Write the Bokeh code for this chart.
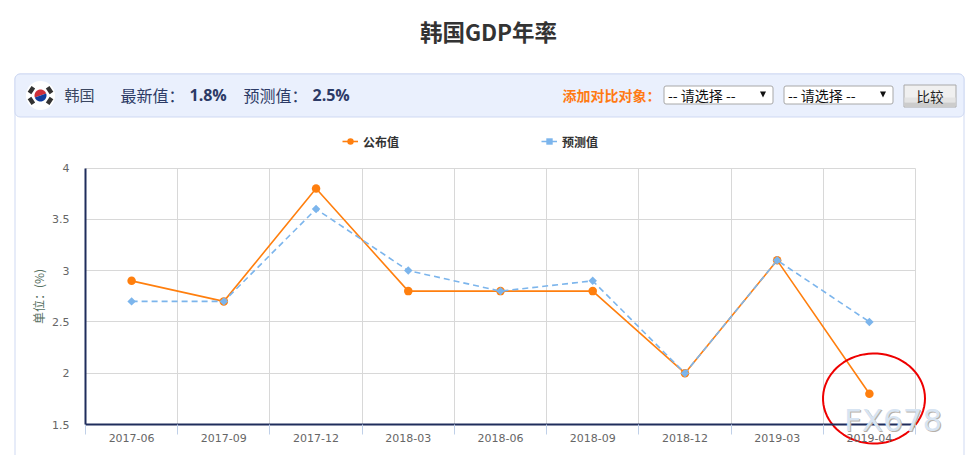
import numpy as np
from bokeh.plotting import figure
from bokeh.models import (Range1d, FixedTicker, Label, BoxAnnotation, Legend, LegendItem, ColumnDataSource)
from bokeh.embed import file_html
from bokeh.resources import INLINE

categories = ["2017-06", "2017-09", "2017-12", "2018-03", "2018-06", "2018-09", "2018-12", "2019-03", "2019-04"]
published = [2.9, 2.7, 3.8, 2.8, 2.8, 2.8, 2.0, 3.1, 1.8]
forecast = [2.7, 2.7, 3.6, 3.0, 2.8, 2.9, 2.0, 3.1, 2.5]
y_ticks = [1.5, 2, 2.5, 3, 3.5, 4]
y_labels = ["1.5", "2", "2.5", "3", "3.5", "4"]
series_names = ["公布值", "预测值"]

CJK = "Noto Sans CJK SC"
ORANGE = "#ff7f0e"
BLUE = "#7cb5ec"
NAVY = "#1f2d5c"
W, H = 972, 455
LEFT, RIGHT, TOP, BOTTOM = 85, 915, 167.5, 424

x_pos = [i + 0.5 for i in range(len(categories))]
band_edges = list(range(len(categories) + 1))
n = len(categories)
ymin, ymax = y_ticks[0], y_ticks[-1]
ux = n / (RIGHT - LEFT)
uy = (ymax - ymin) / (BOTTOM - TOP)

# the frame fills the page, so the panel around the chart can be drawn with the chart
p = figure(width=W, height=H, output_backend="svg", toolbar_location=None,
           x_range=Range1d(-LEFT * ux, (W - LEFT) * ux),
           y_range=Range1d(ymin - (H - BOTTOM) * uy, ymin + BOTTOM * uy),
           min_border=0)
p.outline_line_color = None
p.background_fill_color = "white"
p.extra_x_ranges = {"px": Range1d(0, W)}
p.extra_y_ranges = {"px": Range1d(H, 0)}

xa = p.xaxis[0]
xa.fixed_location = ymin
xa.bounds = (0, n)
xa.ticker = FixedTicker(ticks=x_pos, minor_ticks=band_edges)
xa.major_label_overrides = dict(zip(x_pos, categories))
xa.major_tick_line_color = None
xa.minor_tick_line_color = "#c0d0e8"
xa.minor_tick_out = 10
xa.minor_tick_in = 0
xa.axis_line_color = NAVY
xa.axis_line_width = 2
xa.major_label_text_font = "DejaVu Sans"
xa.major_label_text_font_size = "11px"
xa.major_label_text_color = "#666666"
xa.major_label_standoff = -1

ya = p.yaxis[0]
ya.fixed_location = 0
ya.bounds = (ymin, ymax)
ya.ticker = FixedTicker(ticks=y_ticks)
ya.major_label_overrides = dict(zip(y_ticks, y_labels))
ya.major_tick_line_color = None
ya.minor_tick_line_color = None
ya.axis_line_color = NAVY
ya.axis_line_width = 2
ya.major_label_text_font = "DejaVu Sans"
ya.major_label_text_font_size = "11px"
ya.major_label_text_color = "#666666"
ya.major_label_standoff = 10
ya.axis_label = "单位：(%)"
ya.axis_label_text_font = CJK
ya.axis_label_text_font_style = "normal"
ya.axis_label_text_font_size = "12px"
ya.axis_label_text_color = "#56705f"
ya.axis_label_standoff = 2

p.xgrid.ticker = FixedTicker(ticks=band_edges)
p.ygrid.ticker = FixedTicker(ticks=y_ticks)
p.xgrid.grid_line_color = "#d8d8d8"
p.ygrid.grid_line_color = "#d8d8d8"
p.xgrid.cross_bounds = (ymin, ymax)
p.ygrid.cross_bounds = (0, n)

src = ColumnDataSource(dict(x=x_pos, pub=published, fc=forecast))
l1 = p.line("x", "pub", source=src, line_color=ORANGE, line_width=1.6)
s1 = p.scatter("x", "pub", source=src, marker="circle", size=8.5, fill_color=ORANGE, line_color=ORANGE, line_width=0)
l2 = p.line("x", "fc", source=src, line_color=BLUE, line_width=1.6, line_dash="6 4")
s2 = p.scatter("x", "fc", source=src, marker="square", angle=np.pi / 4, size=6, fill_color=BLUE, line_color=BLUE, line_width=0)

PX = dict(x_range_name="px", y_range_name="px")


def box(l, t, r, b, fill=None, line=None, radius=0, lw=1):
    p.add_layout(BoxAnnotation(left=l, right=r, top=t, bottom=b, fill_color=fill, fill_alpha=1 if fill else 0,
                               line_color=line, line_alpha=1 if line else 0, line_width=lw, border_radius=radius,
                               level="underlay", **PX))


def poly(xs, ys, fill):
    p.patch(list(map(float, xs)), list(map(float, ys)), fill_color=fill, line_color=None, **PX)


def text(x, y, s, size=14, color="#333333", bold=False, font=CJK, align="left"):
    p.add_layout(Label(x=x, y=y, text=s, text_font=font, text_font_size=f"{size}px", text_color=color,
                       text_font_style="bold" if bold else "normal", text_align=align, text_baseline="middle", **PX))


def arc(cx, cy, rx, ry, a0=0.0, a1=2 * np.pi, k=72):
    t = np.linspace(a0, a1, k)
    return cx + rx * np.cos(t), cy + ry * np.sin(t)


# page title
text(488, 30.5, "韩国GDP年率", size=22.5, bold=True, align="center")

# panel and header
box(14.5, 73.5, 963.5, 520, line="#cfd9f2", radius=5)
box(14.5, 73.5, 963.5, 116.5, fill="#eaf0fd", line="#cfd9f2", radius=5)
NAME = "#2c3a66"
text(64, 94, "韩国", size=15, color="#3a4660")
text(120, 94, "最新值：", size=16, color=NAME)
text(189, 94, "1.8%", size=16, color=NAME, bold=True, font="Open Sans")
text(243, 94, "预测值：", size=16, color=NAME)
text(312, 94, "2.5%", size=16, color=NAME, bold=True, font="Open Sans")
text(562, 94, "添加对比对象：", size=14, color="#ff7a14", bold=True)

# flag
poly(*arc(40, 95, 14.5, 14.5), fill="white")
poly(*arc(40, 95, 6, 6, np.pi - 0.35, 2 * np.pi - 0.35), fill="#cd2e3a")
poly(*arc(40, 95, 6, 6, -0.35, np.pi - 0.35), fill="#0f3c9c")
for ang in (0.6, np.pi - 0.6, np.pi + 0.6, -0.6):
    cx, cy = 40 + 11 * np.cos(ang), 95 + 9.5 * np.sin(ang)
    ax, ay = np.cos(ang), np.sin(ang)
    bx, by = -ay, ax
    hu, hv = 2.2, 3.4
    poly([cx - hu * ax - hv * bx, cx + hu * ax - hv * bx, cx + hu * ax + hv * bx, cx - hu * ax + hv * bx],
         [cy - hu * ay - hv * by, cy + hu * ay - hv * by, cy + hu * ay + hv * by, cy - hu * ay + hv * by],
         fill="#333333")

# selects
for left, right in ((663.5, 772.5), (783.5, 892.5)):
    box(left, 85.5, right, 103.5, fill="white", line="#a8a8a8", radius=2)
    text(left + 4, 94, "-- 请选择 --", size=14, color="#111111")
    mid = right - 10
    poly([mid - 3, mid + 3, mid], [91, 91, 97], fill="#111111")

# button
box(903.5, 84.5, 955.5, 106.5, fill="#f0f0f0", line="#a9a9a9")
box(904, 97, 955, 102, fill="#e4e4e4")
box(904, 102, 955, 106, fill="#cccccc")
text(929.5, 95, "比较", size=13.5, color="#222222", align="center")

# hand-drawn highlight and watermark
ex, ey = arc(873.5, 398, 51, 45)
p.line(list(map(float, ex)), list(map(float, ey)), line_color="#ee0000", line_width=2, **PX)
text(844.5, 420.5, "FX678", size=31, color="#b8b0a8", font="DejaVu Sans")
text(843.5, 419.5, "FX678", size=31, color="#d7e4f2", font="DejaVu Sans")

legend = Legend(items=[LegendItem(label=series_names[0], renderers=[l1, s1]),
                       LegendItem(label=series_names[1], renderers=[l2, s2])],
                orientation="horizontal", location=(342, 304), spacing=142, padding=0, margin=0,
                glyph_width=16, glyph_height=20, label_standoff=5,
                background_fill_alpha=0, border_line_alpha=0,
                label_text_font=CJK, label_text_font_size="12px", label_text_font_style="bold",
                label_text_color="#333333")
p.add_layout(legend, "center")

open("out.html", "w").write(file_html(p, INLINE))
